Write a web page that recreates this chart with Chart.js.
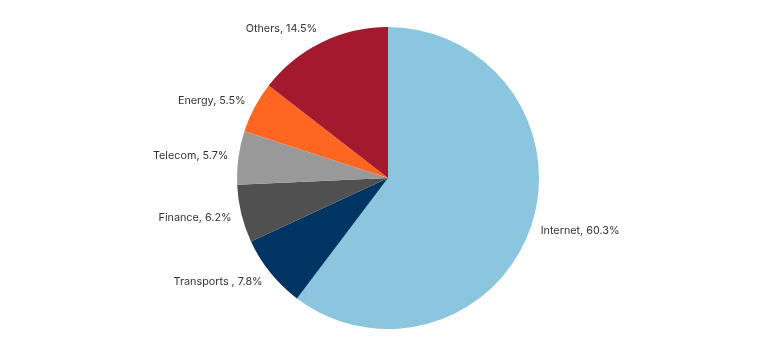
<!DOCTYPE html>
<html>
<head>
<meta charset="utf-8">
<script src="https://cdn.jsdelivr.net/npm/chart.js@4/dist/chart.umd.min.js"></script>
<style>
html,body{margin:0;padding:0;background:#fff;}
#wrap{width:776px;height:340px;position:relative;}
</style>
</head>
<body>
<div id="wrap"><canvas id="c" width="776" height="340"></canvas></div>
<script>
const categories = ["Internet", "Transports ", "Finance", "Telecom", "Energy", "Others"];
const shares = [60.3, 7.8, 6.2, 5.7, 5.5, 14.5];
const colors = ["#8BC5DE", "#003462", "#505050", "#999999", "#FF6622", "#A31A2F"];

const labelPlugin = {
  id: 'outLabels',
  afterDraw(chart) {
    const ctx = chart.ctx;
    const meta = chart.getDatasetMeta(0);
    ctx.save();
    ctx.font = '10.8px Inter, "Noto Sans", sans-serif';
    ctx.fillStyle = '#333333';
    ctx.textBaseline = 'middle';
    meta.data.forEach((arc, i) => {
      const mid = (arc.startAngle + arc.endAngle) / 2;
      const x = arc.x + Math.cos(mid) * (arc.outerRadius + 10);
      const y = arc.y + Math.sin(mid) * (arc.outerRadius + 15);
      ctx.textAlign = Math.cos(mid) >= 0 ? 'left' : 'right';
      ctx.fillText(categories[i] + ', ' + shares[i].toFixed(1) + '%', x, y);
    });
    ctx.restore();
  }
};

new Chart(document.getElementById('c'), {
  type: 'pie',
  data: {
    labels: categories,
    datasets: [{ data: shares, backgroundColor: colors, borderWidth: 0 }]
  },
  options: {
    responsive: false,
    animation: false,
    layout: { padding: { top: 27, bottom: 11, left: 200, right: 200 } },
    plugins: { legend: { display: false }, tooltip: { enabled: false } }
  },
  plugins: [labelPlugin]
});
</script>
</body>
</html>
